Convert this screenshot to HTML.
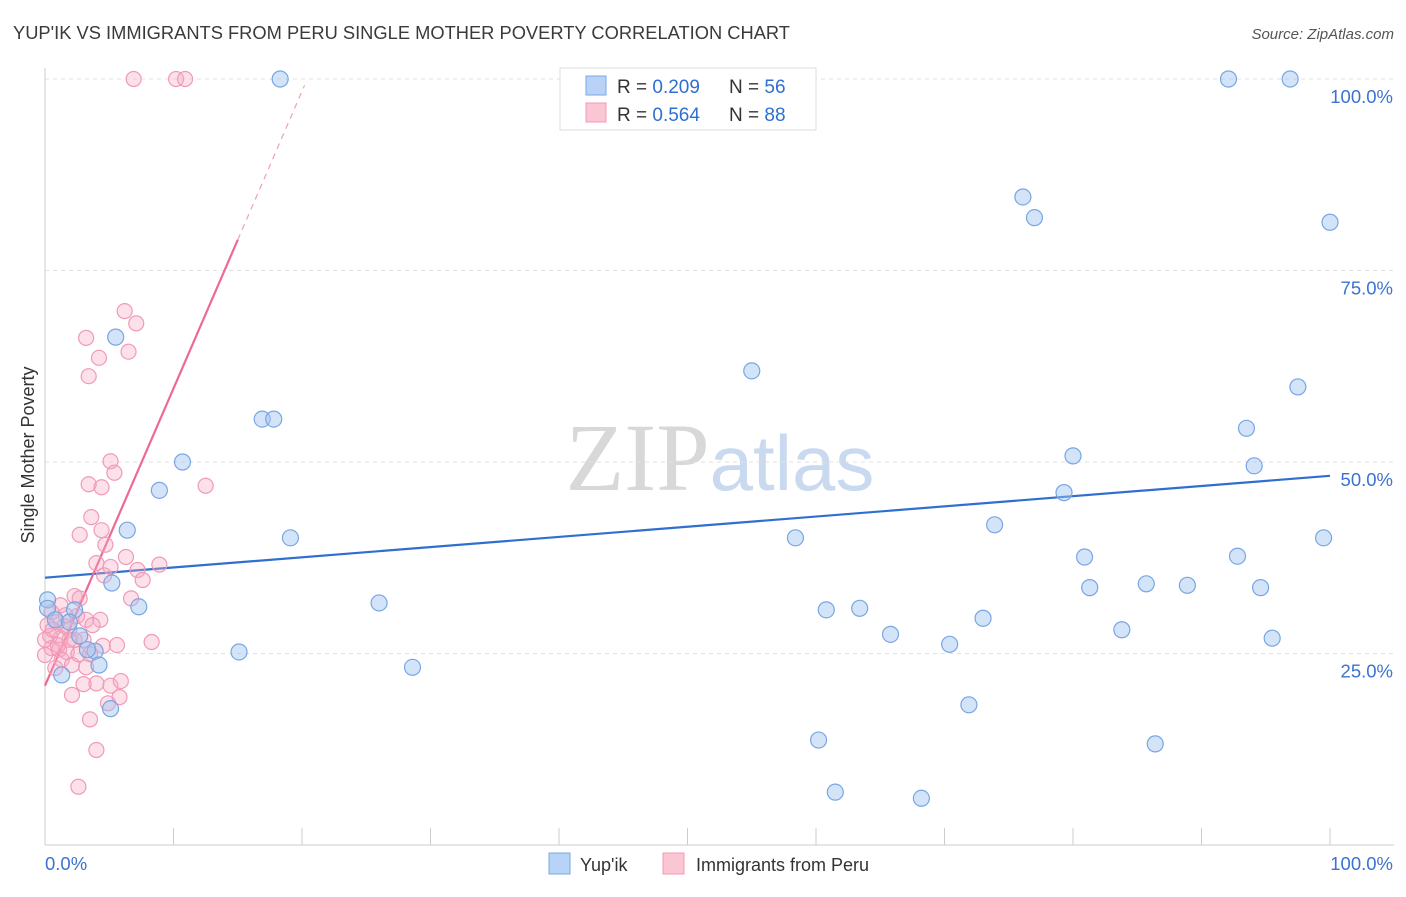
<!DOCTYPE html>
<html><head><meta charset="utf-8"><style>
body{margin:0;background:#fff;width:1406px;height:892px;overflow:hidden;font-family:"Liberation Sans",sans-serif}
</style></head><body>
<svg id="chart" width="1406" height="892" xmlns="http://www.w3.org/2000/svg" font-family="Liberation Sans, sans-serif">
<text x="13" y="39" font-size="18" fill="#3a3a3a" textLength="777" lengthAdjust="spacingAndGlyphs">YUP'IK VS IMMIGRANTS FROM PERU SINGLE MOTHER POVERTY CORRELATION CHART</text>
<text x="1394" y="39" font-size="15" fill="#555" font-style="italic" text-anchor="end">Source: ZipAtlas.com</text>
<text x="720" y="490" font-size="96" text-anchor="middle"><tspan fill="#d8d8d8" font-family="Liberation Serif, serif">ZIP</tspan><tspan fill="#c9d9ef" font-size="78">atlas</tspan></text>
<text transform="translate(34,455) rotate(-90)" font-size="18" fill="#333" text-anchor="middle">Single Mother Poverty</text>
<g id="grid"></g><g id="axes"></g><g id="trends"></g><g id="points"></g>
<g>
<rect x="560" y="68" width="256" height="62" fill="#fff" stroke="#ddd"/>
<rect x="586" y="76" width="20" height="19" fill="#b8d3f5" stroke="#7aa8e6"/>
<text x="617" y="93" font-size="19" fill="#333">R = <tspan fill="#2f6fd0">0.209</tspan></text>
<text x="729" y="93" font-size="19" fill="#333">N = <tspan fill="#2f6fd0">56</tspan></text>
<rect x="586" y="103" width="20" height="19" fill="#fac6d4" stroke="#f29ab5"/>
<text x="617" y="121" font-size="19" fill="#333">R = <tspan fill="#2f6fd0">0.564</tspan></text>
<text x="729" y="121" font-size="19" fill="#333">N = <tspan fill="#2f6fd0">88</tspan></text>
</g>
<g>
<rect x="549" y="853" width="21" height="21" fill="#b8d3f5" stroke="#7aa8e6"/>
<text x="580" y="871" font-size="18" fill="#333">Yup'ik</text>
<rect x="663" y="853" width="21" height="21" fill="#fac6d4" stroke="#f29ab5"/>
<text x="696" y="871" font-size="18" fill="#333">Immigrants from Peru</text>
</g>
</svg>
<script>
const yTicks=[25,50,75,100];
const yTickLabels=["25.0%","50.0%","75.0%","100.0%"];
const xTickLabels=["0.0%","100.0%"];
const blueX=[18.3,92.1,96.9,76.1,77.0,100,5.5,55.0,97.5,16.9,17.8,93.5,10.7,80.0,94.1,8.9,79.3,6.4,73.9,19.1,58.4,80.9,92.8,99.5,5.2,81.3,85.7,88.9,94.6,0.2,0.2,26.0,7.3,60.8,63.4,2.3,73.0,0.8,1.9,83.8,65.8,2.7,70.4,95.5,15.1,3.9,3.3,28.6,4.2,1.3,71.9,5.1,60.2,86.4,61.5,68.2];
const blueY=[100,100,100,84.6,81.9,81.3,66.3,61.9,59.8,55.6,55.6,54.4,50.0,50.8,49.5,46.3,46.0,41.1,41.8,40.1,40.1,37.6,37.7,40.1,34.2,33.6,34.1,33.9,33.6,32.0,30.9,31.6,31.1,30.7,30.9,30.7,29.6,29.4,29.1,28.1,27.5,27.3,26.2,27.0,25.2,25.3,25.5,23.2,23.5,22.2,18.3,17.8,13.7,13.2,6.9,6.1];
const pinkX=[6.9,10.2,10.9,3.2,6.2,7.1,6.5,4.2,3.4,5.1,5.4,3.4,4.4,12.5,3.6,4.4,2.7,4.7,6.3,4.0,5.1,7.2,8.9,7.6,4.6,6.7,2.3,2.7,1.2,0.5,2.5,3.2,4.3,0.9,1.5,1.9,0.4,1.2,2.3,3.0,5.6,8.3,4.5,0.5,1.1,1.7,2.6,3.5,1.3,2.1,3.2,0.8,4.0,5.1,5.9,3.0,2.1,5.8,4.9,3.5,4.0,2.6,0,0.2,0.6,1.6,1.0,1.9,3.7,0];
const pinkY=[100,100,100,66.2,69.7,68.1,64.4,63.6,61.2,50.1,48.6,47.1,46.7,46.9,42.8,41.1,40.5,39.2,37.6,36.8,36.3,35.9,36.6,34.6,35.2,32.2,32.5,32.2,31.3,30.4,29.9,29.4,29.4,29.1,28.6,28.1,27.3,27.0,26.8,26.8,26.1,26.5,26.0,25.7,25.5,25.2,24.9,24.9,24.2,23.5,23.2,23.1,21.1,20.8,21.4,21.0,19.6,19.3,18.5,16.4,12.4,7.6,26.8,28.7,28.1,30.0,26.1,26.8,28.7,24.8];
const blueTrend=[34.9,48.2];   // y at x=0, y at x=100
const pinkTrend=[20.8,3.88];   // intercept, slope
const pinkSolidEnd=15, pinkDashEnd=20.2;

const NS="http://www.w3.org/2000/svg";
const X=v=>45+v*12.85, Y=v=>845-v*7.66;
function mk(parent,tag,attrs){const e=document.createElementNS(NS,tag);for(const k in attrs)e.setAttribute(k,attrs[k]);document.getElementById(parent).appendChild(e);return e;}
yTicks.forEach((t,i)=>{
 const g=mk('grid','line',{x1:45,x2:1394,y1:Y(t),y2:Y(t),stroke:'#e2e2e2','stroke-dasharray':'4,4'});
 
 
 const l=mk('axes','text',{x:1393,y:Y(t)+24,'font-size':18.5,fill:'#3b73d0','text-anchor':'end'});
 l.textContent=yTickLabels[i];
 
 
});
const ax=mk('axes','line',{x1:45,x2:1394,y1:845,y2:845,stroke:'#ccc'});


const ay=mk('axes','line',{x1:45,x2:45,y1:68,y2:845,stroke:'#ccc'});


for(let i=0;i<=10;i++){
 const t=mk('axes','line',{x1:X(i*10),x2:X(i*10),y1:828,y2:845,stroke:'#ccc'});
 
 
}
[[0,'start',45],[100,'end',1393]].forEach((d,i)=>{
 const l=mk('axes','text',{x:d[2],y:870,'font-size':18.5,fill:'#3b73d0','text-anchor':d[1]});
 l.textContent=xTickLabels[i];
 
 
});
const bt=mk('trends','line',{x1:X(0),y1:Y(blueTrend[0]),x2:X(100),y2:Y(blueTrend[1]),stroke:'#2f6fd0','stroke-width':2.2});


const pt=mk('trends','line',{x1:X(0),y1:Y(pinkTrend[0]),x2:X(pinkSolidEnd),y2:Y(pinkTrend[0]+pinkTrend[1]*pinkSolidEnd),stroke:'#ec6a93','stroke-width':2.2});


const pd=mk('trends','line',{x1:X(pinkSolidEnd),y1:Y(pinkTrend[0]+pinkTrend[1]*pinkSolidEnd),x2:X(pinkDashEnd),y2:Y(pinkTrend[0]+pinkTrend[1]*pinkDashEnd),stroke:'#f0a0b8','stroke-width':1.2,'stroke-dasharray':'6,5'});


pinkX.forEach((v,i)=>{
 const c=mk('points','circle',{cx:X(v),cy:Y(pinkY[i]),r:7.5,fill:'rgba(247,170,195,0.35)',stroke:'#f19ab6','stroke-width':1.2});
 
 
});
blueX.forEach((v,i)=>{
 const c=mk('points','circle',{cx:X(v),cy:Y(blueY[i]),r:8,fill:'rgba(160,196,240,0.45)',stroke:'#78a6e4','stroke-width':1.2});
 
 
});
</script>
</body></html>
